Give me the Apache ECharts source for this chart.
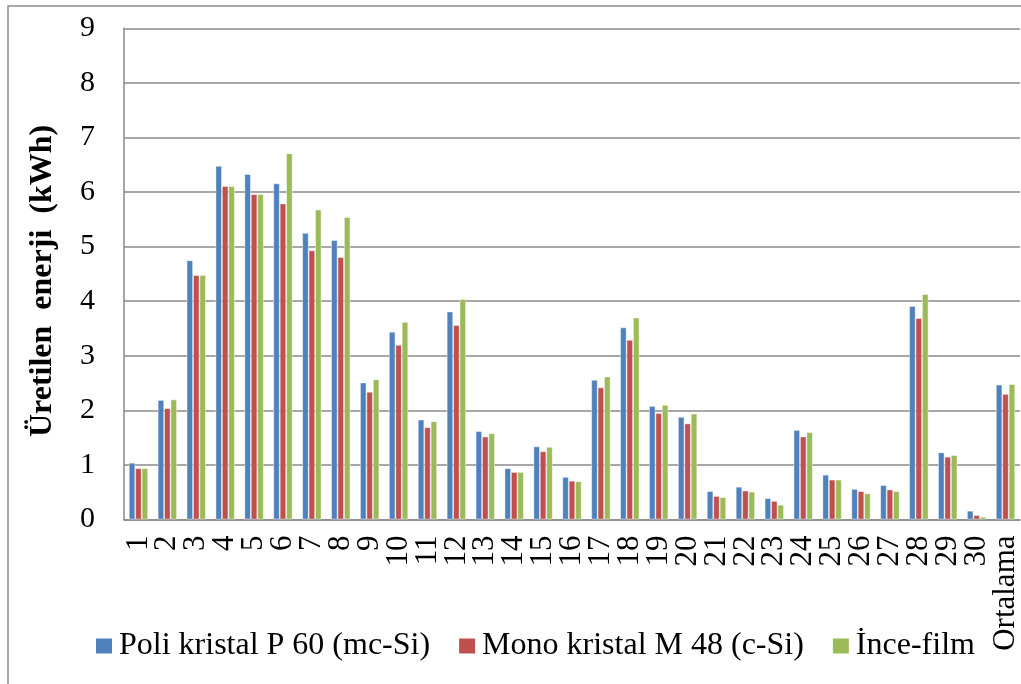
<!DOCTYPE html>
<html>
<head>
<meta charset="utf-8">
<script src="https://cdn.jsdelivr.net/npm/echarts@6/dist/echarts.min.js"></script>
<style>
  html, body { margin: 0; padding: 0; background: #fff; }
  #chart { width: 1021px; height: 684px; }
</style>
</head>
<body>
<div id="chart"></div>
<script>
// Günlük üretilen enerji (kWh), 30 gün ve ortalama
const days = ['1','2','3','4','5','6','7','8','9','10','11','12','13','14','15','16','17','18','19','20','21','22','23','24','25','26','27','28','29','30','Ortalama'];
const poliKristal = [1.04,2.19,4.75,6.48,6.33,6.16,5.25,5.12,2.51,3.44,1.83,3.81,1.62,0.94,1.34,0.78,2.56,3.52,2.08,1.88,0.52,0.60,0.39,1.64,0.82,0.56,0.63,3.91,1.23,0.16,2.47];
const monoKristal = [0.94,2.04,4.48,6.11,5.96,5.79,4.93,4.81,2.34,3.20,1.69,3.56,1.52,0.87,1.25,0.71,2.42,3.29,1.95,1.76,0.43,0.53,0.34,1.52,0.73,0.52,0.55,3.69,1.15,0.08,2.30];
const inceFilm = [0.94,2.20,4.48,6.11,5.96,6.71,5.68,5.54,2.57,3.62,1.80,4.04,1.58,0.87,1.33,0.70,2.62,3.70,2.10,1.94,0.41,0.51,0.27,1.60,0.73,0.48,0.52,4.13,1.18,0.05,2.48];
const seriesNames = ['Poli kristal P 60 (mc-Si)', 'Mono kristal M 48 (c-Si)', 'İnce-film'];
const yTitle = 'Üretilen  enerji  (kWh)';

const serif = '"Liberation Serif", "Times New Roman", serif';
const gridColor = '#8a8a8a';
const colors = ['#4F81BD', '#C0504D', '#9BBB59'];

const chart = echarts.init(document.getElementById('chart'), null, { renderer: 'canvas' });

function barSeries(name, data, color) {
  return {
    name: name,
    type: 'bar',
    data: data,
    barGap: '0%',
    barCategoryGap: '33.3%',
    itemStyle: { color: color, borderColor: 'rgba(255,255,255,0.55)', borderWidth: 0.8 },
    emphasis: { disabled: true }
  };
}

chart.setOption({
  animation: false,
  backgroundColor: '#ffffff',
  textStyle: { fontFamily: serif, color: '#000' },
  grid: { left: 124, top: 28.3, right: 0, bottom: 164.5, containLabel: false },
  legend: {
    left: 91,
    top: 625,
    icon: 'rect',
    itemWidth: 16,
    itemHeight: 15,
    itemGap: 29,
    itemStyle: { borderWidth: 0 },
    textStyle: { fontFamily: serif, fontSize: 32, color: '#000', padding: [0, 0, 0, 2] },
    data: seriesNames
  },
  xAxis: {
    type: 'category',
    data: days,
    axisLine: { show: true, lineStyle: { color: gridColor, width: 1.5 } },
    axisTick: { show: false },
    axisLabel: {
      rotate: 90,
      interval: 0,
      margin: 16,
      fontFamily: serif,
      fontSize: 31,
      color: '#000'
    }
  },
  yAxis: {
    type: 'value',
    min: 0,
    max: 9,
    interval: 1,
    name: yTitle,
    nameLocation: 'middle',
    nameRotate: 90,
    nameGap: 65,
    nameTextStyle: { fontFamily: serif, fontSize: 32, fontWeight: 'bold', color: '#000', padding: [0, 14, 0, 0] },
    axisLine: { show: true, lineStyle: { color: gridColor, width: 1.5 } },
    axisTick: { show: false },
    axisLabel: { margin: 29, fontFamily: serif, fontSize: 30, color: '#000' },
    splitLine: { show: true, lineStyle: { color: gridColor, width: 1.5 } }
  },
  graphic: [{
    type: 'rect',
    z: -1,
    shape: { x: 8, y: 6, width: 1100, height: 700 },
    style: { fill: 'none', stroke: '#8a8a8a', lineWidth: 1.5 },
    silent: true
  }],
  series: [
    barSeries(seriesNames[0], poliKristal, colors[0]),
    barSeries(seriesNames[1], monoKristal, colors[1]),
    barSeries(seriesNames[2], inceFilm, colors[2])
  ]
});
</script>
</body>
</html>
